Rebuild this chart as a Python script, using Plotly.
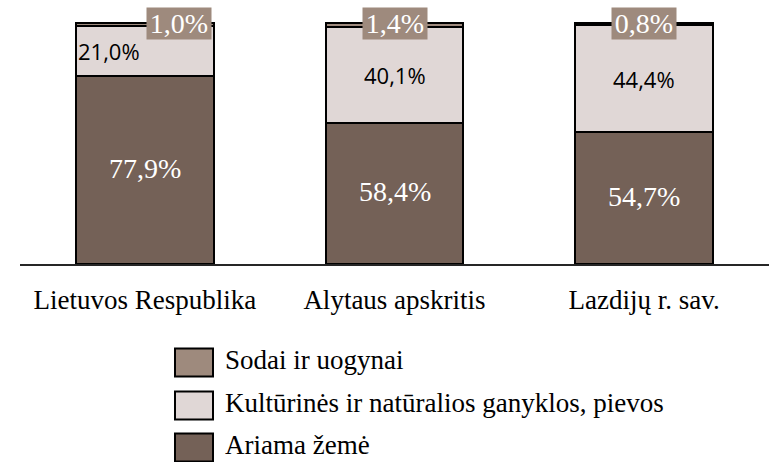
import plotly.graph_objects as go

categories = ["Lietuvos Respublika", "Alytaus apskritis", "Lazdijų r. sav."]
series_names = ["Ariama žemė", "Kultūrinės ir natūralios ganyklos, pievos", "Sodai ir uogynai"]
ariama = [77.9, 58.4, 54.7]
kulturines = [21.0, 40.1, 44.4]
sodai = [1.0, 1.4, 0.8]
labels_ariama = ["77,9%", "58,4%", "54,7%"]
labels_kult = ["21,0%", "40,1%", "44,4%"]
labels_sodai = ["1,0%", "1,4%", "0,8%"]

C_ARIAMA = "#746157"
C_KULT = "#e0d7d6"
C_SODAI = "#9e8a7d"
SERIF = "Liberation Serif"
SANS = "Open Sans"

W, H = 769, 462
ML, MR, MT, MB = 20, 0, 5, 198
PW, PH = W - ML - MR, H - MT - MB
PX_PER_PCT = 2.41

fig = go.Figure()
series = [(series_names[0], ariama, C_ARIAMA),
          (series_names[1], kulturines, C_KULT),
          (series_names[2], sodai, C_SODAI)]
for name, vals, col in series:
    fig.add_trace(go.Bar(
        x=categories, y=vals, name=name, width=0.552,
        marker=dict(color=col, line=dict(color="black", width=2)),
        showlegend=False, hoverinfo="name+y"))

annotations = []
for i, cat in enumerate(categories):
    annotations.append(dict(x=cat, y=ariama[i] / 2, xref="x", yref="y",
                            text=labels_ariama[i], showarrow=False, yshift=2,
                            font=dict(family=SERIF, size=28, color="white")))
    xs = -36 if i == 0 else 0
    annotations.append(dict(x=cat, y=ariama[i] + kulturines[i] / 2, xref="x", yref="y",
                            text=labels_kult[i], showarrow=False, xshift=xs,
                            font=dict(family=SANS, size=22, color="black")))
    total = ariama[i] + kulturines[i] + sodai[i]
    xs = 34 if i == 0 else 0
    annotations.append(dict(x=cat, y=total, xref="x", yref="y", yanchor="middle",
                            text=labels_sodai[i], showarrow=False, xshift=xs,
                            bgcolor=C_SODAI, width=62, height=29, borderpad=1,
                            font=dict(family=SERIF, size=28, color="white")))

def px_x(p):
    return (p - ML) / PW

def px_y(p):
    return (H - MB - p) / PH

shapes = []
legend_rows = [(series_names[2], C_SODAI, 362.5), (series_names[1], C_KULT, 405.5), (series_names[0], C_ARIAMA, 447.5)]
for name, col, cy in legend_rows:
    shapes.append(dict(type="rect", xref="paper", yref="paper",
                       x0=px_x(175), x1=px_x(213), y0=px_y(cy - 14), y1=px_y(cy + 14),
                       fillcolor=col, line=dict(color="black", width=2)))
    annotations.append(dict(x=px_x(223), y=px_y(cy - 3), xref="paper", yref="paper",
                            xanchor="left", yanchor="middle", text=name, showarrow=False,
                            font=dict(family=SERIF, size=27, color="black")))

fig.update_layout(
    width=W, height=H,
    margin=dict(l=ML, r=MR, t=MT, b=MB),
    barmode="stack",
    paper_bgcolor="white", plot_bgcolor="white",
    showlegend=False,
    annotations=annotations,
    shapes=shapes,
    xaxis=dict(range=[-0.5, 2.5], showline=True, linecolor="#262626", linewidth=2,
               ticks="", showgrid=False, zeroline=False, ticklabelstandoff=11,
               tickfont=dict(family=SERIF, size=27, color="black")),
    yaxis=dict(range=[0, PH / PX_PER_PCT], visible=False, showgrid=False, zeroline=False),
)

fig.write_html("out.html", config={"displayModeBar": False},
               post_script="document.body.style.margin='0';document.body.style.overflow='hidden';")
